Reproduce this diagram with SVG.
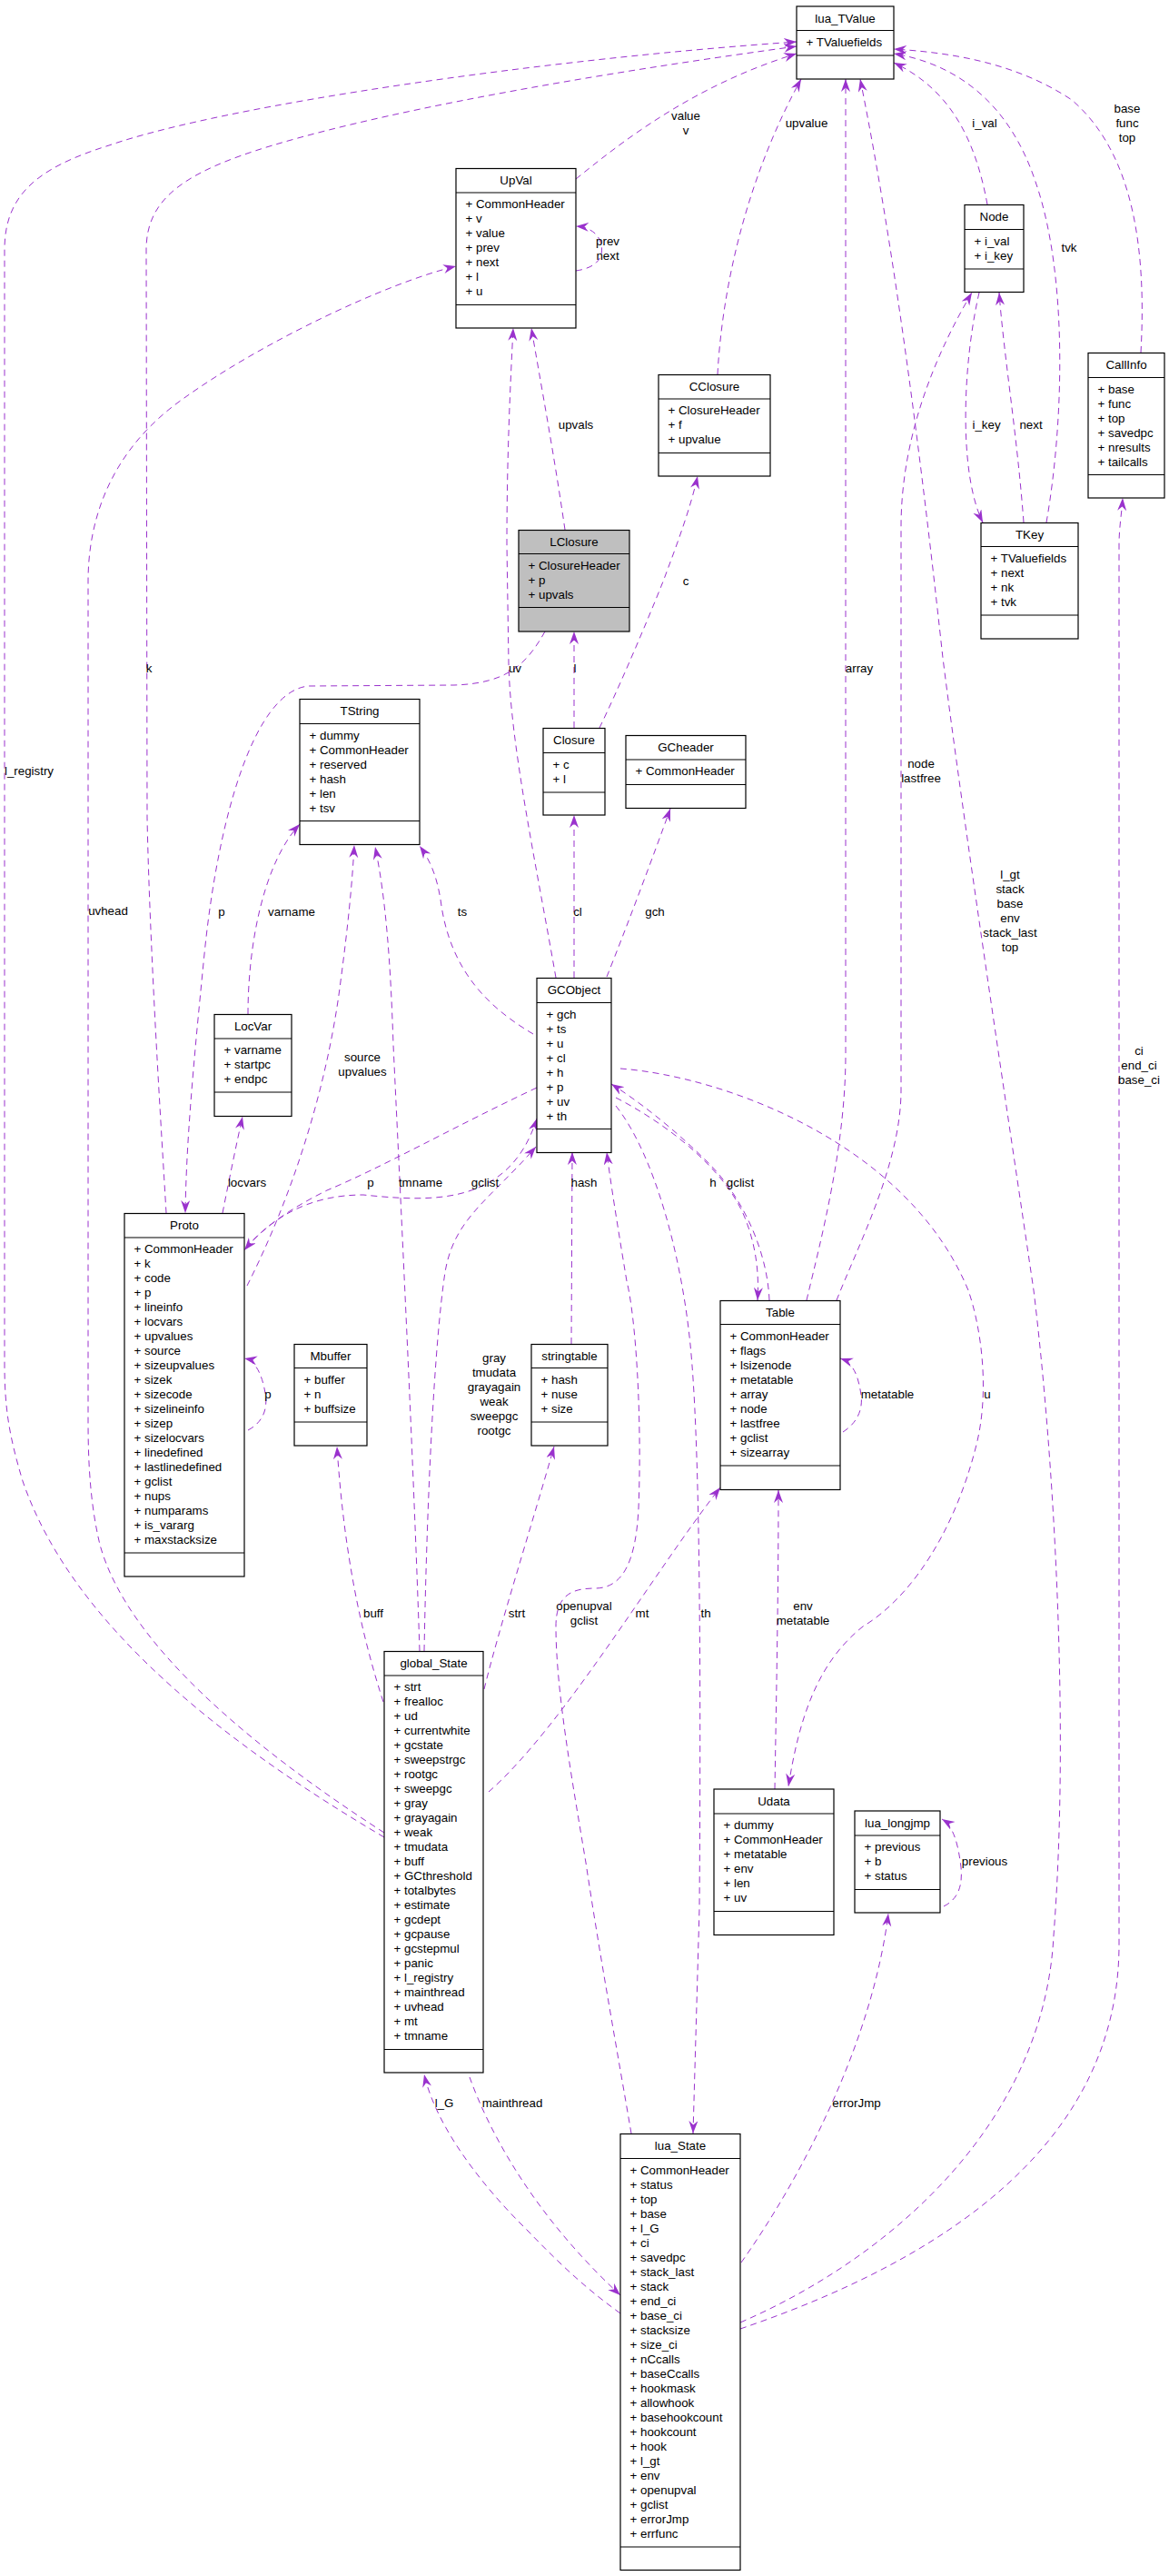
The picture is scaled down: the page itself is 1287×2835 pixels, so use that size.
<svg xmlns="http://www.w3.org/2000/svg" width="1287" height="2835" viewBox="0 0 1287 2835">
<style>
text{font-family:"Liberation Sans",Arial,Helvetica,sans-serif;font-size:13.33px;fill:#000}
.n rect{fill:#fff;stroke:#000;stroke-width:1.2}
.n line{stroke:#000;stroke-width:1.2}
.n rect.g{fill:#bfbfbf}
.tt{text-anchor:middle}
.lb{text-anchor:middle}
.e{fill:none;stroke:#9a32cd;stroke-width:1;stroke-dasharray:7,5;marker-end:url(#a)}
</style>
<defs>
<marker id="a" markerWidth="16" markerHeight="12" refX="14" refY="5" orient="auto" markerUnits="userSpaceOnUse"><path d="M0,0 L14,5 L0,10 L4.5,5 z" fill="#9a32cd"/></marker>
</defs>
<rect width="1287" height="2835" fill="#fff"/>

<g id="edges">
<path class="e" d="M423,2022 C250,1920 80,1790 25,1630 C10,1580 5,1550 5,1500 L5,275 C5,215 40,185 120,160 C250,115 600,65 877,46"/>
<path class="e" d="M423,2017 C280,1925 140,1810 110,1700 C98,1650 97,1600 97,1560 L97,640 C97,560 130,490 200,440 C290,375 430,310 502,293"/>
<path class="e" d="M183,1335 C178,1250 165,1050 162,900 L161,275 C161,220 200,190 300,160 C450,115 700,75 877,51"/>
<path class="e" d="M634,197 C680,160 760,95 877,59"/>
<path class="e" d="M790,412 C795,320 820,200 882,87"/>
<path class="e" d="M888,1431 C905,1360 931,1260 931,1160 L931,87"/>
<path class="e" d="M921,1431 C945,1370 992,1280 992,1200 L992,580 C992,480 1030,390 1070,322"/>
<path class="e" d="M815,2556 C990,2480 1150,2330 1160,2130 C1178,1900 1160,1600 1138,1420 C1110,1230 1060,900 1038,724 C1020,560 990,300 947,87"/>
<path class="e" d="M815,2563 C1000,2500 1232,2380 1232,2140 L1232,600 C1232,580 1235,565 1236,548"/>
<path class="e" d="M1256,388 C1262,280 1250,170 1180,110 C1120,70 1050,58 984,54"/>
<path class="e" d="M1087,225 C1075,160 1050,100 984,69"/>
<path class="e" d="M1152,575 C1172,460 1175,300 1140,200 C1110,110 1050,70 984,59"/>
<path class="e" d="M1078,322 C1060,400 1055,520 1082,575"/>
<path class="e" d="M1127,575 C1120,480 1105,390 1100,322"/>
<path class="e" d="M634,298 C655,295 665,285 662,270 C660,258 650,250 634,249"/>
<path class="e" d="M622,583 C610,500 595,420 585,361"/>
<path class="e" d="M612,1076 C590,950 562,820 560,730 L558,600 C558,500 562,420 565,361"/>
<path class="e" d="M632,801 L632,695"/>
<path class="e" d="M660,801 C680,760 710,690 730,640 C745,600 760,560 768,524"/>
<path class="e" d="M600,695 C580,730 560,752 500,754 L340,755 C280,760 240,900 225,1050 C212,1180 205,1260 204,1335"/>
<path class="e" d="M273,1116 C273,1040 290,950 330,907"/>
<path class="e" d="M272,1415 C320,1320 360,1200 375,1080 C383,1020 388,970 390,930"/>
<path class="e" d="M591,1197 C500,1240 420,1285 360,1310 C320,1330 290,1350 269,1376"/>
<path class="e" d="M270,1374 C300,1340 340,1315 400,1315 C470,1322 560,1330 591,1231"/>
<path class="e" d="M467,1817 C470,1650 478,1480 490,1400 C500,1340 540,1320 590,1262"/>
<path class="e" d="M462,1817 C455,1600 440,1300 433,1150 C430,1060 425,990 413,932"/>
<path class="e" d="M587,1138 C540,1110 495,1070 485,990 C480,960 472,945 462,931"/>
<path class="e" d="M632,1076 L632,897"/>
<path class="e" d="M668,1075 C690,1020 720,940 738,890"/>
<path class="e" d="M683,1176 C800,1185 1000,1260 1066,1420 C1080,1460 1090,1530 1075,1590 C1050,1690 1000,1760 950,1790 C900,1830 880,1890 868,1966"/>
<path class="e" d="M678,1208 C740,1240 800,1290 820,1340 C832,1370 836,1400 834,1431"/>
<path class="e" d="M847,1431 C845,1380 820,1320 780,1280 C740,1240 700,1210 673,1193"/>
<path class="e" d="M629,1479 L630,1268"/>
<path class="e" d="M678,1217 C720,1270 750,1380 760,1480 C770,1580 772,1800 770,2100 L763,2348"/>
<path class="e" d="M695,2348 C680,2260 660,2150 645,2050 C630,1960 612,1860 612,1790 C612,1755 630,1748 655,1748 C685,1748 700,1720 703,1660 C707,1560 700,1450 690,1410 C680,1350 672,1300 668,1268"/>
<path class="e" d="M928,1576 C945,1565 950,1550 948,1535 C945,1515 940,1500 925,1495"/>
<path class="e" d="M853,1969 C855,1850 857,1750 857,1640"/>
<path class="e" d="M538,1972 C620,1900 720,1730 793,1637"/>
<path class="e" d="M533,1859 C550,1790 585,1680 610,1592"/>
<path class="e" d="M422,1873 C395,1790 378,1700 371,1592"/>
<path class="e" d="M273,1574 C290,1565 295,1550 292,1533 C288,1510 280,1497 269,1495"/>
<path class="e" d="M245,1335 C252,1300 260,1260 267,1229"/>
<path class="e" d="M683,2546 C640,2515 610,2485 580,2454 C530,2405 480,2340 467,2283"/>
<path class="e" d="M517,2286 C540,2350 590,2440 683,2526"/>
<path class="e" d="M816,2490 C880,2400 960,2250 978,2106"/>
<path class="e" d="M1039,2098 C1055,2090 1060,2075 1058,2055 C1055,2030 1050,2010 1037,2002"/>

<text class="lb" x="32" y="853">l_registry</text>
<text class="lb" x="119" y="1007">uvhead</text>
<text class="lb" x="164" y="740">k</text>
<text class="lb" x="244" y="1008">p</text>
<text class="lb" x="321" y="1008">varname</text>
<text class="lb" x="399" y="1168">source</text>
<text class="lb" x="399" y="1184">upvalues</text>
<text class="lb" x="272" y="1306">locvars</text>
<text class="lb" x="408" y="1306">p</text>
<text class="lb" x="463" y="1306">tmname</text>
<text class="lb" x="534" y="1306">gclist</text>
<text class="lb" x="643" y="1306">hash</text>
<text class="lb" x="785" y="1306">h</text>
<text class="lb" x="815" y="1306">gclist</text>
<text class="lb" x="509" y="1008">ts</text>
<text class="lb" x="567" y="740">uv</text>
<text class="lb" x="633" y="740">l</text>
<text class="lb" x="636" y="1008">cl</text>
<text class="lb" x="721" y="1008">gch</text>
<text class="lb" x="755" y="644">c</text>
<text class="lb" x="634" y="472">upvals</text>
<text class="lb" x="669" y="270">prev</text>
<text class="lb" x="669" y="286">next</text>
<text class="lb" x="755" y="132">value</text>
<text class="lb" x="755" y="148">v</text>
<text class="lb" x="888" y="140">upvalue</text>
<text class="lb" x="1084" y="140">i_val</text>
<text class="lb" x="1241" y="124">base</text>
<text class="lb" x="1241" y="140">func</text>
<text class="lb" x="1241" y="156">top</text>
<text class="lb" x="1177" y="277">tvk</text>
<text class="lb" x="1086" y="472">i_key</text>
<text class="lb" x="1135" y="472">next</text>
<text class="lb" x="946" y="740">array</text>
<text class="lb" x="1014" y="845">node</text>
<text class="lb" x="1014" y="861">lastfree</text>
<text class="lb" x="1112" y="967">l_gt</text>
<text class="lb" x="1112" y="983">stack</text>
<text class="lb" x="1112" y="999">base</text>
<text class="lb" x="1112" y="1015">env</text>
<text class="lb" x="1112" y="1031">stack_last</text>
<text class="lb" x="1112" y="1047">top</text>
<text class="lb" x="1254" y="1161">ci</text>
<text class="lb" x="1254" y="1177">end_ci</text>
<text class="lb" x="1254" y="1193">base_ci</text>
<text class="lb" x="977" y="1539">metatable</text>
<text class="lb" x="1087" y="1539">u</text>
<text class="lb" x="295" y="1539">p</text>
<text class="lb" x="411" y="1780">buff</text>
<text class="lb" x="544" y="1499">gray</text>
<text class="lb" x="544" y="1515">tmudata</text>
<text class="lb" x="544" y="1531">grayagain</text>
<text class="lb" x="544" y="1547">weak</text>
<text class="lb" x="544" y="1563">sweepgc</text>
<text class="lb" x="544" y="1579">rootgc</text>
<text class="lb" x="569" y="1780">strt</text>
<text class="lb" x="643" y="1772">openupval</text>
<text class="lb" x="643" y="1788">gclist</text>
<text class="lb" x="707" y="1780">mt</text>
<text class="lb" x="777" y="1780">th</text>
<text class="lb" x="884" y="1772">env</text>
<text class="lb" x="884" y="1788">metatable</text>
<text class="lb" x="1084" y="2053">previous</text>
<text class="lb" x="489" y="2319">l_G</text>
<text class="lb" x="564" y="2319">mainthread</text>
<text class="lb" x="943" y="2319">errorJmp</text>
</g>

<g id="lua_TValue" class="n"><rect x="877" y="7" width="107" height="80"/><line x1="877" y1="33.5" x2="984" y2="33.5"/><line x1="877" y1="61" x2="984" y2="61"/><text class="tt" x="930.5" y="24.5">lua_TValue</text><text x="887.5" y="50.5">+ TValuefields</text></g>

<g id="UpVal" class="n"><rect x="502" y="185.5" width="132" height="175.5"/><line x1="502" y1="212" x2="634" y2="212"/><line x1="502" y1="335.5" x2="634" y2="335.5"/><text class="tt" x="568" y="203">UpVal</text><text x="512.5" y="229"><tspan x="512.5" dy="0">+ CommonHeader</tspan><tspan x="512.5" dy="16">+ v</tspan><tspan x="512.5" dy="16">+ value</tspan><tspan x="512.5" dy="16">+ prev</tspan><tspan x="512.5" dy="16">+ next</tspan><tspan x="512.5" dy="16">+ l</tspan><tspan x="512.5" dy="16">+ u</tspan></text></g>

<g id="CClosure" class="n"><rect x="725" y="412.5" width="123" height="111.5"/><line x1="725" y1="439" x2="848" y2="439"/><line x1="725" y1="498.5" x2="848" y2="498.5"/><text class="tt" x="786.5" y="430">CClosure</text><text x="735.5" y="456"><tspan x="735.5" dy="0">+ ClosureHeader</tspan><tspan x="735.5" dy="16">+ f</tspan><tspan x="735.5" dy="16">+ upvalue</tspan></text></g>

<g id="LClosure" class="n"><rect class="g" x="571" y="583.5" width="122" height="111.5"/><line x1="571" y1="609.5" x2="693" y2="609.5"/><line x1="571" y1="668.5" x2="693" y2="668.5"/><text class="tt" x="632" y="601">LClosure</text><text x="581.5" y="626.5"><tspan x="581.5" dy="0">+ ClosureHeader</tspan><tspan x="581.5" dy="16">+ p</tspan><tspan x="581.5" dy="16">+ upvals</tspan></text></g>

<g id="Node" class="n"><rect x="1062" y="225.5" width="65" height="96"/><line x1="1062" y1="252.5" x2="1127" y2="252.5"/><line x1="1062" y1="296" x2="1127" y2="296"/><text class="tt" x="1094.5" y="243">Node</text><text x="1072.5" y="269.5"><tspan x="1072.5" dy="0">+ i_val</tspan><tspan x="1072.5" dy="16">+ i_key</tspan></text></g>

<g id="TKey" class="n"><rect x="1080" y="575.5" width="107" height="127.5"/><line x1="1080" y1="601.5" x2="1187" y2="601.5"/><line x1="1080" y1="677" x2="1187" y2="677"/><text class="tt" x="1133.5" y="593">TKey</text><text x="1090.5" y="618.5"><tspan x="1090.5" dy="0">+ TValuefields</tspan><tspan x="1090.5" dy="16">+ next</tspan><tspan x="1090.5" dy="16">+ nk</tspan><tspan x="1090.5" dy="16">+ tvk</tspan></text></g>

<g id="CallInfo" class="n"><rect x="1198" y="388.5" width="84" height="159.5"/><line x1="1198" y1="415.5" x2="1282" y2="415.5"/><line x1="1198" y1="522.5" x2="1282" y2="522.5"/><text class="tt" x="1240" y="406">CallInfo</text><text x="1208.5" y="432.5"><tspan x="1208.5" dy="0">+ base</tspan><tspan x="1208.5" dy="16">+ func</tspan><tspan x="1208.5" dy="16">+ top</tspan><tspan x="1208.5" dy="16">+ savedpc</tspan><tspan x="1208.5" dy="16">+ nresults</tspan><tspan x="1208.5" dy="16">+ tailcalls</tspan></text></g>

<g id="TString" class="n"><rect x="330" y="769.5" width="132" height="160"/><line x1="330" y1="796.5" x2="462" y2="796.5"/><line x1="330" y1="903.5" x2="462" y2="903.5"/><text class="tt" x="396" y="787">TString</text><text x="340.5" y="813.5"><tspan x="340.5" dy="0">+ dummy</tspan><tspan x="340.5" dy="16">+ CommonHeader</tspan><tspan x="340.5" dy="16">+ reserved</tspan><tspan x="340.5" dy="16">+ hash</tspan><tspan x="340.5" dy="16">+ len</tspan><tspan x="340.5" dy="16">+ tsv</tspan></text></g>

<g id="LocVar" class="n"><rect x="236" y="1116.5" width="85" height="112"/><line x1="236" y1="1143" x2="321" y2="1143"/><line x1="236" y1="1202" x2="321" y2="1202"/><text class="tt" x="278.5" y="1134">LocVar</text><text x="246.5" y="1160"><tspan x="246.5" dy="0">+ varname</tspan><tspan x="246.5" dy="16">+ startpc</tspan><tspan x="246.5" dy="16">+ endpc</tspan></text></g>

<g id="Proto" class="n"><rect x="137" y="1335.5" width="132" height="399.5"/><line x1="137" y1="1362" x2="269" y2="1362"/><line x1="137" y1="1709" x2="269" y2="1709"/><text class="tt" x="203" y="1353">Proto</text><text x="147.5" y="1379"><tspan x="147.5" dy="0">+ CommonHeader</tspan><tspan x="147.5" dy="16">+ k</tspan><tspan x="147.5" dy="16">+ code</tspan><tspan x="147.5" dy="16">+ p</tspan><tspan x="147.5" dy="16">+ lineinfo</tspan><tspan x="147.5" dy="16">+ locvars</tspan><tspan x="147.5" dy="16">+ upvalues</tspan><tspan x="147.5" dy="16">+ source</tspan><tspan x="147.5" dy="16">+ sizeupvalues</tspan><tspan x="147.5" dy="16">+ sizek</tspan><tspan x="147.5" dy="16">+ sizecode</tspan><tspan x="147.5" dy="16">+ sizelineinfo</tspan><tspan x="147.5" dy="16">+ sizep</tspan><tspan x="147.5" dy="16">+ sizelocvars</tspan><tspan x="147.5" dy="16">+ linedefined</tspan><tspan x="147.5" dy="16">+ lastlinedefined</tspan><tspan x="147.5" dy="16">+ gclist</tspan><tspan x="147.5" dy="16">+ nups</tspan><tspan x="147.5" dy="16">+ numparams</tspan><tspan x="147.5" dy="16">+ is_vararg</tspan><tspan x="147.5" dy="16">+ maxstacksize</tspan></text></g>

<g id="Closure" class="n"><rect x="598" y="801.5" width="68" height="95.5"/><line x1="598" y1="828.5" x2="666" y2="828.5"/><line x1="598" y1="872" x2="666" y2="872"/><text class="tt" x="632" y="819">Closure</text><text x="608.5" y="845.5"><tspan x="608.5" dy="0">+ c</tspan><tspan x="608.5" dy="16">+ l</tspan></text></g>

<g id="GCheader" class="n"><rect x="689" y="809.5" width="132" height="80"/><line x1="689" y1="836" x2="821" y2="836"/><line x1="689" y1="863.5" x2="821" y2="863.5"/><text class="tt" x="755" y="827">GCheader</text><text x="699.5" y="853">+ CommonHeader</text></g>

<g id="GCObject" class="n"><rect x="591" y="1076.5" width="82" height="192"/><line x1="591" y1="1103.5" x2="673" y2="1103.5"/><line x1="591" y1="1242.5" x2="673" y2="1242.5"/><text class="tt" x="632" y="1094">GCObject</text><text x="601.5" y="1120.5"><tspan x="601.5" dy="0">+ gch</tspan><tspan x="601.5" dy="16">+ ts</tspan><tspan x="601.5" dy="16">+ u</tspan><tspan x="601.5" dy="16">+ cl</tspan><tspan x="601.5" dy="16">+ h</tspan><tspan x="601.5" dy="16">+ p</tspan><tspan x="601.5" dy="16">+ uv</tspan><tspan x="601.5" dy="16">+ th</tspan></text></g>

<g id="Mbuffer" class="n"><rect x="324" y="1479.5" width="80" height="111.5"/><line x1="324" y1="1505.5" x2="404" y2="1505.5"/><line x1="324" y1="1565" x2="404" y2="1565"/><text class="tt" x="364" y="1497">Mbuffer</text><text x="334.5" y="1522.5"><tspan x="334.5" dy="0">+ buffer</tspan><tspan x="334.5" dy="16">+ n</tspan><tspan x="334.5" dy="16">+ buffsize</tspan></text></g>

<g id="stringtable" class="n"><rect x="585" y="1479.5" width="84" height="111.5"/><line x1="585" y1="1505.5" x2="669" y2="1505.5"/><line x1="585" y1="1565" x2="669" y2="1565"/><text class="tt" x="627" y="1497">stringtable</text><text x="595.5" y="1522.5"><tspan x="595.5" dy="0">+ hash</tspan><tspan x="595.5" dy="16">+ nuse</tspan><tspan x="595.5" dy="16">+ size</tspan></text></g>

<g id="Table" class="n"><rect x="793" y="1431.5" width="132" height="208"/><line x1="793" y1="1457.5" x2="925" y2="1457.5"/><line x1="793" y1="1613" x2="925" y2="1613"/><text class="tt" x="859" y="1449">Table</text><text x="803.5" y="1474.5"><tspan x="803.5" dy="0">+ CommonHeader</tspan><tspan x="803.5" dy="16">+ flags</tspan><tspan x="803.5" dy="16">+ lsizenode</tspan><tspan x="803.5" dy="16">+ metatable</tspan><tspan x="803.5" dy="16">+ array</tspan><tspan x="803.5" dy="16">+ node</tspan><tspan x="803.5" dy="16">+ lastfree</tspan><tspan x="803.5" dy="16">+ gclist</tspan><tspan x="803.5" dy="16">+ sizearray</tspan></text></g>

<g id="Udata" class="n"><rect x="786" y="1969" width="132" height="160.5"/><line x1="786" y1="1996" x2="918" y2="1996"/><line x1="786" y1="2103.5" x2="918" y2="2103.5"/><text class="tt" x="852" y="1986.5">Udata</text><text x="796.5" y="2013"><tspan x="796.5" dy="0">+ dummy</tspan><tspan x="796.5" dy="16">+ CommonHeader</tspan><tspan x="796.5" dy="16">+ metatable</tspan><tspan x="796.5" dy="16">+ env</tspan><tspan x="796.5" dy="16">+ len</tspan><tspan x="796.5" dy="16">+ uv</tspan></text></g>

<g id="lua_longjmp" class="n"><rect x="941" y="1993" width="94" height="112"/><line x1="941" y1="2020" x2="1035" y2="2020"/><line x1="941" y1="2079.5" x2="1035" y2="2079.5"/><text class="tt" x="988" y="2010.5">lua_longjmp</text><text x="951.5" y="2037"><tspan x="951.5" dy="0">+ previous</tspan><tspan x="951.5" dy="16">+ b</tspan><tspan x="951.5" dy="16">+ status</tspan></text></g>

<g id="global_State" class="n"><rect x="423" y="1817.5" width="109" height="463.5"/><line x1="423" y1="1844" x2="532" y2="1844"/><line x1="423" y1="2255.5" x2="532" y2="2255.5"/><text class="tt" x="477.5" y="1835">global_State</text><text x="433.5" y="1861"><tspan x="433.5" dy="0">+ strt</tspan><tspan x="433.5" dy="16">+ frealloc</tspan><tspan x="433.5" dy="16">+ ud</tspan><tspan x="433.5" dy="16">+ currentwhite</tspan><tspan x="433.5" dy="16">+ gcstate</tspan><tspan x="433.5" dy="16">+ sweepstrgc</tspan><tspan x="433.5" dy="16">+ rootgc</tspan><tspan x="433.5" dy="16">+ sweepgc</tspan><tspan x="433.5" dy="16">+ gray</tspan><tspan x="433.5" dy="16">+ grayagain</tspan><tspan x="433.5" dy="16">+ weak</tspan><tspan x="433.5" dy="16">+ tmudata</tspan><tspan x="433.5" dy="16">+ buff</tspan><tspan x="433.5" dy="16">+ GCthreshold</tspan><tspan x="433.5" dy="16">+ totalbytes</tspan><tspan x="433.5" dy="16">+ estimate</tspan><tspan x="433.5" dy="16">+ gcdept</tspan><tspan x="433.5" dy="16">+ gcpause</tspan><tspan x="433.5" dy="16">+ gcstepmul</tspan><tspan x="433.5" dy="16">+ panic</tspan><tspan x="433.5" dy="16">+ l_registry</tspan><tspan x="433.5" dy="16">+ mainthread</tspan><tspan x="433.5" dy="16">+ uvhead</tspan><tspan x="433.5" dy="16">+ mt</tspan><tspan x="433.5" dy="16">+ tmname</tspan></text></g>

<g id="lua_State" class="n"><rect x="683" y="2348.5" width="132" height="480"/><line x1="683" y1="2375.5" x2="815" y2="2375.5"/><line x1="683" y1="2803" x2="815" y2="2803"/><text class="tt" x="749" y="2366">lua_State</text><text x="693.5" y="2392.5"><tspan x="693.5" dy="0">+ CommonHeader</tspan><tspan x="693.5" dy="16">+ status</tspan><tspan x="693.5" dy="16">+ top</tspan><tspan x="693.5" dy="16">+ base</tspan><tspan x="693.5" dy="16">+ l_G</tspan><tspan x="693.5" dy="16">+ ci</tspan><tspan x="693.5" dy="16">+ savedpc</tspan><tspan x="693.5" dy="16">+ stack_last</tspan><tspan x="693.5" dy="16">+ stack</tspan><tspan x="693.5" dy="16">+ end_ci</tspan><tspan x="693.5" dy="16">+ base_ci</tspan><tspan x="693.5" dy="16">+ stacksize</tspan><tspan x="693.5" dy="16">+ size_ci</tspan><tspan x="693.5" dy="16">+ nCcalls</tspan><tspan x="693.5" dy="16">+ baseCcalls</tspan><tspan x="693.5" dy="16">+ hookmask</tspan><tspan x="693.5" dy="16">+ allowhook</tspan><tspan x="693.5" dy="16">+ basehookcount</tspan><tspan x="693.5" dy="16">+ hookcount</tspan><tspan x="693.5" dy="16">+ hook</tspan><tspan x="693.5" dy="16">+ l_gt</tspan><tspan x="693.5" dy="16">+ env</tspan><tspan x="693.5" dy="16">+ openupval</tspan><tspan x="693.5" dy="16">+ gclist</tspan><tspan x="693.5" dy="16">+ errorJmp</tspan><tspan x="693.5" dy="16">+ errfunc</tspan></text></g>
</svg>
